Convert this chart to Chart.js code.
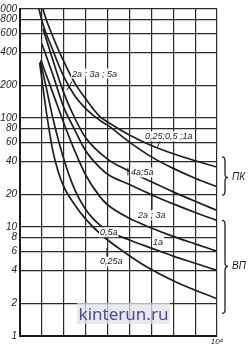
<!DOCTYPE html>
<html>
<head>
<meta charset="utf-8">
<script src="https://cdn.jsdelivr.net/npm/chart.js@4.4.1/dist/chart.umd.min.js"></script>
<style>
  html, body { margin: 0; padding: 0; background: #fff; }
  #wrap { position: relative; width: 248px; height: 346px; overflow: hidden; }
  #c { display: block; }
  #wm { position: absolute; left: 77px; top: 303px; width: 93px; height: 21px;
        background: rgba(226,226,234,0.75); color: #4b4b9e;
        font: 17px "Noto Sans", sans-serif; line-height: 21px; text-align: center; letter-spacing: 0px; }
</style>
</head>
<body>
<div id="wrap">
<canvas id="c" width="248" height="346"></canvas>
<div id="wm">kinterun.ru</div>
</div>
<script>
// ---- data ----
const yTickValues = [1, 2, 4, 6, 8, 10, 20, 40, 60, 80, 100, 200, 400, 600, 800, 1000];
const xTickLabelAtMax = '10⁴';

// ПК group
const pk1X = [1.95, 2.05, 2.5, 3, 3.5, 4, 4.65, 5, 6, 7, 8, 9, 10];        // 0,25; 0,5; 1а
const pk1Y = [1250, 1000, 560, 330, 210, 150, 103, 92, 70, 56, 47, 40.5, 35.5];
const pk2X = [1.8, 1.87, 2.5, 3, 3.5, 4, 4.65, 5, 6, 7, 8, 9, 10];          // 2а; 3а; 5а
const pk2Y = [1250, 1000, 420, 240, 160, 122, 95, 86, 60, 44, 34.5, 28, 23.4];

// ВП group
const vp45X = [2.05, 2.5, 3, 3.5, 4, 5, 6, 7, 8, 9, 10];                     // 4а; 5а
const vp45Y = [660, 340, 170, 100, 66, 42, 32.5, 26, 21, 17.2, 14.2];
const vp23X = [2.0, 2.5, 3, 3.5, 4, 4.65, 5, 6, 7, 8, 9, 10];                // 2а; 3а
const vp23Y = [480, 250, 125, 78, 50, 35, 30.5, 24.5, 19.8, 16.3, 13.6, 11.5];
const vp1X = [1.95, 2.5, 3, 3.5, 4, 4.65, 5, 6, 7, 8, 9, 10];                // 1а
const vp1Y = [340, 170, 90, 50, 30, 19, 16, 12, 9.8, 8.2, 7, 6.0];
const vp05X = [1.93, 2.2, 2.5, 3, 3.5, 4, 4.65, 5, 6, 7, 8, 9, 10];          // 0,5а
const vp05Y = [330, 190, 100, 42, 22, 14.5, 10.4, 9.3, 7.6, 6.4, 5.4, 4.65, 4.0];
const vp025X = [1.9, 2.1, 2.3, 2.5, 2.75, 3, 3.5, 4, 4.74, 5.75, 6.8, 8.17, 10]; // 0,25а
const vp025Y = [320, 160, 85, 50, 32, 23.5, 16, 11.8, 8.4, 5.9, 4.3, 3.1, 2.2];

// annotations (data coordinates)
const curveLabels = [
  { text: '2а ; 3а ; 5а',    x: 3.375, y: 240 },
  { text: '0,25;0,5 ;1а',     x: 6.71,  y: 63.9 },
  { text: '4а;5а',           x: 6.07,  y: 29.7 },
  { text: '2а ; 3а',         x: 6.39,  y: 12.0 },
  { text: '0,5а',            x: 4.65,  y: 8.4 },
  { text: '1а',              x: 7.08,  y: 6.84 },
  { text: '0,25а',           x: 4.65,  y: 4.53 }
];
const leaders = [
  { x1: 3.375, y1: 216, x2: 3.147, y2: 180 },
  { x1: 7.40,  y1: 61.2, x2: 7.26, y2: 53 },
  { x1: 5.93,  y1: 35,  x2: 5.93,  y2: 29.7 },
  { x1: 7.03,  y1: 20.5, x2: 7.03, y2: 14.4 },
  { x1: 4.97,  y1: 6.43, x2: 4.97, y2: 5.34 }
];
const groupBrackets = [
  { text: 'ПК', top: 44,   bottom: 19.6, mid: 28.5 },
  { text: 'ВП', top: 11.5, bottom: 1.61, mid: 4.35 }
];

function pts(xs, ys) { return xs.map((x, i) => ({ x: x, y: ys[i] })); }

const lineStyle = { borderColor: '#1e1e1e', borderWidth: 1.7, pointRadius: 0, fill: false,
                    cubicInterpolationMode: 'monotone' };

const annotPlugin = {
  id: 'annot',
  afterDatasetsDraw(chart) {
    const ctx = chart.ctx, xs = chart.scales.x, ys = chart.scales.y;
    ctx.save();
    ctx.fillStyle = '#222';
    ctx.strokeStyle = '#222';
    ctx.font = 'italic 9px "Liberation Sans", sans-serif';
    ctx.textBaseline = 'alphabetic';
    ctx.textAlign = 'left';
    curveLabels.forEach(l => {
      const px = xs.getPixelForValue(l.x), py = ys.getPixelForValue(l.y);
      ctx.fillStyle = 'rgba(255,255,255,0.9)';
      const w = ctx.measureText(l.text).width;
      ctx.fillRect(px - 1, py - 8, w + 2, 10);
      ctx.fillStyle = '#222';
      ctx.fillText(l.text, px, py);
    });
    ctx.lineWidth = 1;
    leaders.forEach(l => {
      ctx.beginPath();
      ctx.moveTo(xs.getPixelForValue(l.x1), ys.getPixelForValue(l.y1));
      ctx.lineTo(xs.getPixelForValue(l.x2), ys.getPixelForValue(l.y2));
      ctx.stroke();
    });
    // brackets on the right
    const bx = chart.chartArea.right + 8;
    ctx.lineWidth = 1.3;
    ctx.font = 'italic 10px "Liberation Sans", sans-serif';
    groupBrackets.forEach(b => {
      const t = ys.getPixelForValue(b.top), bt = ys.getPixelForValue(b.bottom), m = ys.getPixelForValue(b.mid);
      ctx.beginPath();
      ctx.moveTo(bx - 3, t);
      ctx.quadraticCurveTo(bx, t, bx, t + 4);
      ctx.lineTo(bx, m - 4);
      ctx.quadraticCurveTo(bx, m, bx + 3, m);
      ctx.quadraticCurveTo(bx, m, bx, m + 4);
      ctx.lineTo(bx, bt - 4);
      ctx.quadraticCurveTo(bx, bt, bx - 3, bt);
      ctx.stroke();
      ctx.textBaseline = 'middle';
      ctx.fillText(b.text, bx + 7, m);
    });
    ctx.restore();
  }
};

new Chart(document.getElementById('c'), {
  type: 'line',
  data: {
    datasets: [
      { label: '0,25; 0,5; 1а', data: pts(pk1X, pk1Y), ...lineStyle },
      { label: '2а; 3а; 5а', data: pts(pk2X, pk2Y), ...lineStyle },
      { label: '4а; 5а', data: pts(vp45X, vp45Y), ...lineStyle },
      { label: '2а; 3а', data: pts(vp23X, vp23Y), ...lineStyle },
      { label: '1а', data: pts(vp1X, vp1Y), ...lineStyle },
      { label: '0,5а', data: pts(vp05X, vp05Y), ...lineStyle },
      { label: '0,25а', data: pts(vp025X, vp025Y), ...lineStyle }
    ]
  },
  options: {
    responsive: false,
    animation: false,
    layout: { padding: { top: 2, right: 31, left: 0, bottom: 0 } },
    plugins: { legend: { display: false }, tooltip: { enabled: false } },
    scales: {
      x: {
        type: 'linear', min: 1, max: 10,
        ticks: { stepSize: 1, autoSkip: false, maxRotation: 0, padding: 1,
                 color: '#222', font: { size: 8, style: 'italic', family: '"Liberation Sans", sans-serif' },
                 callback: v => (v === 10 ? xTickLabelAtMax : '') },
        grid: { color: '#2a2a2a', lineWidth: 1.2, drawTicks: false },
        border: { color: '#1a1a1a', width: 2 },
        afterFit: s => { s.height = 10; }
      },
      y: {
        type: 'logarithmic', min: 1, max: 1000,
        afterBuildTicks: s => { s.ticks = yTickValues.map(v => ({ value: v })); },
        ticks: { autoSkip: false, padding: 3, color: '#222',
                 font: { size: 10, style: 'italic', family: '"Liberation Sans", sans-serif' },
                 callback: v => String(v) },
        grid: { color: '#2a2a2a', lineWidth: 1.2, drawTicks: false },
        border: { color: '#1a1a1a', width: 2 },
        afterFit: s => { s.width = 20; }
      }
    }
  },
  plugins: [annotPlugin]
});
</script>
</body>
</html>
